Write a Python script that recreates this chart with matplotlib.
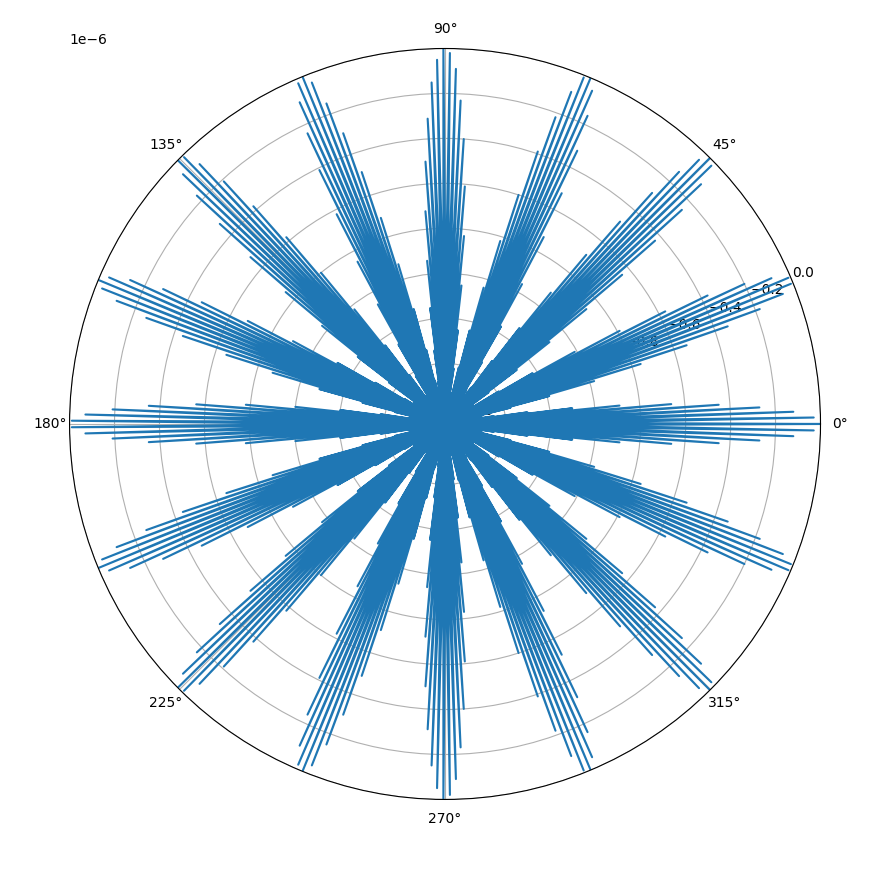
import numpy as np
import matplotlib
matplotlib.use("Agg")
import matplotlib.pyplot as plt
from matplotlib.ticker import MultipleLocator

# Depth of each spoke tip below r = 0, in units of 1e-6 (r = -depth * 1e-6),
# listed in angle order: 360 spokes evenly spaced from 0 to 2*pi.
spoke_depth = [
    0.00, 0.03, 0.12, 0.27, 0.45, 0.66, 0.89, 1.10, 1.30, 1.45, 1.55, 1.60, 1.58, 1.50, 1.37, 1.19, 0.98, 0.76, 0.54, 0.34, 0.18, 0.06, 0.01,
    0.01, 0.08, 0.20, 0.37, 0.57, 0.79, 1.01, 1.22, 1.39, 1.52, 1.59, 1.60, 1.54, 1.43, 1.27, 1.08, 0.86, 0.64, 0.43, 0.25, 0.11, 0.02,
    0.00, 0.04, 0.14, 0.29, 0.48, 0.69, 0.92, 1.13, 1.32, 1.47, 1.56, 1.60, 1.57, 1.49, 1.35, 1.17, 0.96, 0.73, 0.52, 0.32, 0.16, 0.05, 0.00,
    0.01, 0.09, 0.22, 0.39, 0.60, 0.82, 1.04, 1.24, 1.41, 1.53, 1.59, 1.59, 1.53, 1.42, 1.25, 1.05, 0.83, 0.61, 0.40, 0.23, 0.09, 0.02,
    0.00, 0.05, 0.15, 0.31, 0.50, 0.72, 0.94, 1.15, 1.34, 1.48, 1.57, 1.60, 1.57, 1.47, 1.33, 1.14, 0.93, 0.71, 0.49, 0.30, 0.15, 0.04, 0.00,
    0.02, 0.10, 0.24, 0.41, 0.62, 0.85, 1.06, 1.26, 1.42, 1.54, 1.59, 1.59, 1.52, 1.40, 1.23, 1.02, 0.80, 0.58, 0.38, 0.21, 0.08, 0.01,
    0.00, 0.06, 0.17, 0.33, 0.53, 0.75, 0.97, 1.18, 1.36, 1.50, 1.58, 1.60, 1.56, 1.46, 1.31, 1.12, 0.90, 0.68, 0.46, 0.28, 0.13, 0.04, 0.00,
    0.03, 0.11, 0.26, 0.44, 0.65, 0.87, 1.09, 1.29, 1.44, 1.55, 1.60, 1.58, 1.51, 1.38, 1.20, 1.00, 0.78, 0.56, 0.35, 0.19, 0.07, 0.01,
    0.01, 0.07, 0.19, 0.35, 0.56, 0.78, 1.00, 1.20, 1.38, 1.51, 1.58, 1.60, 1.55, 1.44, 1.29, 1.09, 0.87, 0.65, 0.44, 0.26, 0.11, 0.03,
    0.00, 0.04, 0.13, 0.28, 0.46, 0.68, 0.90, 1.12, 1.31, 1.46, 1.56, 1.60, 1.58, 1.50, 1.36, 1.18, 0.97, 0.75, 0.53, 0.33, 0.17, 0.06, 0.00,
    0.01, 0.08, 0.21, 0.38, 0.58, 0.80, 1.02, 1.23, 1.40, 1.52, 1.59, 1.59, 1.54, 1.42, 1.26, 1.06, 0.85, 0.62, 0.41, 0.24, 0.10, 0.02,
    0.00, 0.04, 0.15, 0.30, 0.49, 0.71, 0.93, 1.14, 1.33, 1.47, 1.57, 1.60, 1.57, 1.48, 1.34, 1.15, 0.94, 0.72, 0.50, 0.31, 0.15, 0.05, 0.00,
    0.02, 0.09, 0.23, 0.40, 0.61, 0.83, 1.05, 1.25, 1.42, 1.53, 1.59, 1.59, 1.53, 1.41, 1.24, 1.04, 0.82, 0.60, 0.39, 0.22, 0.09, 0.01,
    0.00, 0.05, 0.16, 0.32, 0.52, 0.73, 0.96, 1.17, 1.35, 1.49, 1.57, 1.60, 1.56, 1.47, 1.32, 1.13, 0.92, 0.69, 0.48, 0.29, 0.14, 0.04, 0.00,
    0.02, 0.11, 0.25, 0.43, 0.64, 0.86, 1.08, 1.27, 1.43, 1.54, 1.60, 1.59, 1.52, 1.39, 1.22, 1.01, 0.79, 0.57, 0.37, 0.20, 0.08, 0.01,
    0.01, 0.06, 0.18, 0.34, 0.54, 0.76, 0.98, 1.19, 1.37, 1.50, 1.58, 1.60, 1.55, 1.45, 1.30, 1.10, 0.89, 0.66, 0.45, 0.27, 0.12, 0.03, 0.00,
]

# radial axis limits and tick step (units of 1e-6)
r_inner = -1.67
r_outer = 0.0
r_tick_step = 0.2

n = len(spoke_depth)
half = n // 2
theta = np.linspace(0, 2 * np.pi, n)
r = -np.asarray(spoke_depth) * 1e-6

# the line visits the spokes alternately on opposite sides (k, k + n/2, k + 1, ...)
order = np.empty(n, dtype=int)
order[0::2] = np.arange(half)
order[1::2] = np.arange(half, n)

fig = plt.figure(figsize=(8.94, 8.73), dpi=100)
ax = fig.add_axes([0.0778, 0.0842, 0.84, 0.8603], projection="polar")

ax.plot(theta[order], r[order], color="#1f77b4", linewidth=1.5)

ax.set_ylim(r_inner * 1e-6, r_outer * 1e-6)
ax.yaxis.set_major_locator(MultipleLocator(r_tick_step * 1e-6))
ax.grid(True)

fig.savefig("out.png", dpi=100)
